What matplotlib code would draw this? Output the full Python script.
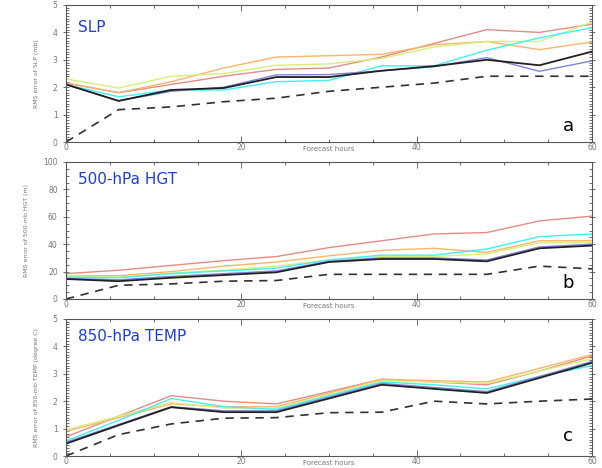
import numpy as np
import matplotlib
matplotlib.use("Agg")
import matplotlib.pyplot as plt
from matplotlib.ticker import MultipleLocator

hours = [0, 6, 12, 18, 24, 30, 36, 42, 48, 54, 60]

# panel a: SLP
slp_red = [2.15, 1.8, 2.1, 2.4, 2.65, 2.7, 3.1, 3.6, 4.1, 4.0, 4.3]
slp_orange = [2.15, 1.8, 2.2, 2.7, 3.1, 3.15, 3.2, 3.55, 3.67, 3.37, 3.65]
slp_green = [2.3, 1.97, 2.4, 2.5, 2.8, 2.85, 3.05, 3.47, 3.67, 3.67, 4.38]
slp_cyan = [2.1, 1.65, 1.9, 1.9, 2.2, 2.25, 2.78, 2.78, 3.35, 3.8, 4.17]
slp_blue = [2.1, 1.5, 1.85, 2.0, 2.45, 2.46, 2.6, 2.75, 3.08, 2.58, 2.96]
slp_black = [2.1, 1.5, 1.9, 1.97, 2.37, 2.37, 2.6, 2.77, 3.0, 2.8, 3.3]
slp_dash = [0.0, 1.18, 1.28, 1.47, 1.6, 1.85, 2.0, 2.15, 2.4, 2.4, 2.4]

# panel b: 500-hPa HGT
hgt_red = [18.5, 21, 24.5, 28, 31, 37.5, 42.5, 47.5, 48.5, 57, 60.5]
hgt_orange = [17, 17, 20, 24, 27, 31.5, 35.5, 37, 34, 42.5, 42.5]
hgt_green = [17, 16, 19, 21, 24, 28.5, 31, 31, 33, 41, 41]
hgt_cyan = [16, 15.5, 18.5, 20.5, 22.5, 28.5, 32, 32, 36.5, 45.5, 47.5]
hgt_blue = [15, 14, 16.5, 18.5, 20.5, 27.5, 30, 30, 28.5, 38, 40]
hgt_black = [14.6, 13, 15.5, 17.5, 19.5, 27, 29.2, 29.2, 27.5, 37, 39]
hgt_dash = [0, 10, 11, 13, 13.5, 18, 18, 18, 18, 24, 22]

# panel c: 850-hPa TEMP
tmp_red = [0.7, 1.45, 2.2, 2.0, 1.9, 2.35, 2.8, 2.7, 2.6, 3.1, 3.65]
tmp_orange = [0.9, 1.4, 1.9, 1.8, 1.8, 2.3, 2.8, 2.75, 2.7, 3.2, 3.7]
tmp_green = [0.95, 1.45, 1.95, 1.75, 1.75, 2.25, 2.75, 2.7, 2.65, 3.1, 3.55]
tmp_cyan = [0.55, 1.3, 2.1, 1.8, 1.7, 2.2, 2.7, 2.6, 2.45, 2.9, 3.3]
tmp_blue = [0.5, 1.15, 1.8, 1.65, 1.65, 2.15, 2.65, 2.5, 2.35, 2.9, 3.45]
tmp_black = [0.45, 1.12, 1.78, 1.6, 1.6, 2.1, 2.6, 2.45, 2.3, 2.85, 3.4]
tmp_dash = [0.0, 0.78, 1.17, 1.38, 1.4, 1.58, 1.6, 2.0, 1.9, 2.0, 2.08]

colors = ['#e38c84', '#ffb36b', '#d4f07a', '#3ff0f4', '#8080e0', '#202020']

panels = [
    dict(lines=[slp_red, slp_orange, slp_green, slp_cyan, slp_blue, slp_black], dash=slp_dash,
         ymax=5, major=1, minor=0.1, title='SLP', letter='a', ly=0.115,
         ylabel='RMS error of SLP (mb)', ty=0.835,
         pos=[66/602, 1-142/468, 526/602, 137/468]),
    dict(lines=[hgt_red, hgt_orange, hgt_green, hgt_cyan, hgt_blue, hgt_black], dash=hgt_dash,
         ymax=100, major=20, minor=5, title='500-hPa HGT', letter='b', ly=0.115,
         ylabel='RMS error of 500-mb HGT (m)', ty=0.875,
         pos=[66/602, 1-299/468, 526/602, 137/468]),
    dict(lines=[tmp_red, tmp_orange, tmp_green, tmp_cyan, tmp_blue, tmp_black], dash=tmp_dash,
         ymax=5, major=1, minor=0.1, title='850-hPa TEMP', letter='c', ly=0.145,
         ylabel='RMS error of 850-mb TEMP (degree C)', ty=0.875,
         pos=[66/602, 1-456/468, 526/602, 137/468]),
]

fig = plt.figure(figsize=(6.02, 4.68), dpi=100)

for p in panels:
    ax = fig.add_axes(p['pos'])
    for vals, c in zip(p['lines'], colors):
        ax.plot(hours, vals, color=c, lw=1.0 if c != '#202020' else 1.3)
    ax.plot(hours, p['dash'], color='#303030', lw=1.2, ls=(0, (5, 4)))
    ax.set_xlim(0, 60)
    ax.set_ylim(0, p['ymax'])
    ax.xaxis.set_major_locator(MultipleLocator(20))
    ax.xaxis.set_minor_locator(MultipleLocator(5))
    ax.yaxis.set_major_locator(MultipleLocator(p['major']))
    ax.yaxis.set_minor_locator(MultipleLocator(p['minor']))
    ax.tick_params(which='both', direction='in', top=True, right=True,
                   colors='#555555', labelcolor='#777777', labelsize=5.5, width=0.6)
    ax.tick_params(which='major', length=4)
    ax.tick_params(which='minor', length=2)
    ax.tick_params(axis='x', which='major', pad=1)
    ax.tick_params(axis='y', which='major', direction='inout', length=5)
    for s in ax.spines.values():
        s.set_color('#555555')
        s.set_linewidth(0.8)
    ax.set_ylabel(p['ylabel'], fontsize=4.5, color='#777777', labelpad=10)
    ax.text(30, -0.03 * p['ymax'], 'Forecast hours', ha='center', va='top',
            fontsize=5, color='#777777')
    ax.text(0.023, p['ty'], p['title'], transform=ax.transAxes, fontsize=11,
            color='#1f3fd0', va='center')
    ax.text(0.955, p['ly'], p['letter'], transform=ax.transAxes, fontsize=13,
            color='black', va='center', ha='center')

fig.savefig('out.png', dpi=100)
